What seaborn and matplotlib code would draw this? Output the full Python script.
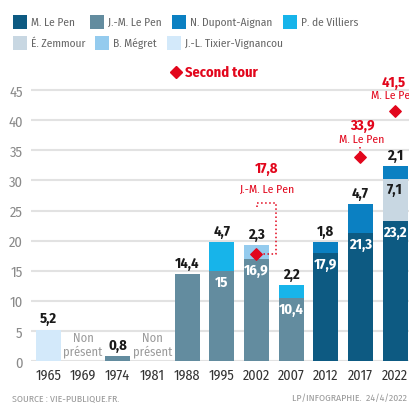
import pandas as pd
import numpy as np
import matplotlib.pyplot as plt
import seaborn as sns
from matplotlib.patches import Rectangle
from matplotlib.lines import Line2D

# données : scores au premier tour de l'extrême droite
annees = ["1965", "1969", "1974", "1981", "1988", "1995", "2002", "2007", "2012", "2017", "2022"]
jm_le_pen = [0, 0, 0.8, 0, 14.4, 15, 16.9, 10.4, 0, 0, 0]
m_le_pen = [0, 0, 0, 0, 0, 0, 0, 0, 17.9, 21.3, 23.2]
zemmour = [0, 0, 0, 0, 0, 0, 0, 0, 0, 0, 7.1]
tixier = [5.2, 0, 0, 0, 0, 0, 0, 0, 0, 0, 0]
megret = [0, 0, 0, 0, 0, 0, 2.3, 0, 0, 0, 0]
villiers = [0, 0, 0, 0, 0, 4.7, 0, 2.2, 0, 0, 0]
dupont = [0, 0, 0, 0, 0, 0, 0, 0, 1.8, 4.7, 2.1]
non_present = ["1969", "1981"]

# second tour
st_annees = ["2002", "2017", "2022"]
st_valeurs = [17.8, 33.9, 41.5]
st_noms = ["J.-M. Le Pen", "M. Le Pen", "M. Le Pen"]

couleurs = {
    "M. Le Pen": "#0d5a82",
    "J.-M. Le Pen": "#638c9f",
    "N. Dupont-Aignan": "#0b80c2",
    "P. de Villiers": "#17b4ea",
    "É. Zemmour": "#c8d7e2",
    "B. Mégret": "#94cbee",
    "J.-L. Tixier-Vignancou": "#d3e9fa",
}
rouge = "#e2061c"

# ordre d'empilement (du bas vers le haut)
couches = [
    ("J.-M. Le Pen", jm_le_pen),
    ("M. Le Pen", m_le_pen),
    ("É. Zemmour", zemmour),
    ("J.-L. Tixier-Vignancou", tixier),
    ("B. Mégret", megret),
    ("P. de Villiers", villiers),
    ("N. Dupont-Aignan", dupont),
]

df = pd.DataFrame({"annee": annees})
cumul = np.zeros(len(annees))
for nom, vals in couches:
    cumul = cumul + np.array(vals)
    df[nom + "_haut"] = cumul.copy()
df["total"] = cumul

sns.set_style("white")
plt.rcParams["font.family"] = ["Fira Sans Condensed", "DejaVu Sans"]

W, H = 410, 406
fig = plt.figure(figsize=(4.1, 4.06), dpi=100)
ax = fig.add_axes([31 / W, 44 / H, 379 / W, 301 / H])

# barres empilées : on dessine les cumuls du haut vers le bas
for nom, vals in reversed(couches):
    sns.barplot(data=df, x="annee", y=nom + "_haut", order=annees, color=couleurs[nom],
                width=0.72, linewidth=0, saturation=1, ax=ax, zorder=3)

ax.set_xlim(-0.49, 10.43)
ax.set_ylim(0, 50)
ax.set_yticks(range(0, 50, 5))
ax.yaxis.grid(True, color="#e2e2e2", linewidth=1.5, zorder=0)
ax.set_axisbelow(True)
for s in ax.spines.values():
    s.set_visible(False)
ax.set_xlabel("")
ax.set_ylabel("")
ax.tick_params(axis="y", length=0, labelsize=10.5, labelcolor="#8a8a8a", pad=6)
ax.tick_params(axis="x", which="major", length=0, labelsize=10.2, labelcolor="#333333", pad=5)
ax.set_xticks(np.arange(len(annees)) - 0.5, minor=True)
ax.tick_params(axis="x", which="minor", length=5, width=1, color="#aaaaaa", direction="out")

# étiquettes de valeurs
def fmt(v):
    return f"{v:g}".replace(".", ",")

for i, a in enumerate(annees):
    segs = [(nom, vals[i]) for nom, vals in couches if vals[i] > 0]
    if not segs:
        continue
    total = df["total"][i]
    haut_nom, haut_val = segs[-1]
    ax.text(i, total + 0.7, fmt(haut_val), ha="center", va="bottom", fontsize=10.5,
            fontweight="bold", color="#1a1a1a", zorder=5)
    if len(segs) > 1:
        bas = 0
        for nom, v in segs[:-1]:
            c = "#1a1a1a" if nom == "É. Zemmour" else "white"
            ax.text(i, bas + v - 0.6, fmt(v), ha="center", va="top", fontsize=10.5,
                    fontweight="bold", color=c, zorder=5)
            bas += v

for a in non_present:
    i = annees.index(a)
    ax.text(i, 2.8, "Non\nprésent", ha="center", va="center", fontsize=9,
            color="#9a9a9a", linespacing=1.05)

# second tour
st_x = [annees.index(a) for a in st_annees]
ax.scatter(st_x, st_valeurs, marker="D", s=34, color=rouge, zorder=6, clip_on=False)

ax.plot([6.02, 6.02, 6.57, 6.57, 6.05], [25.6, 26.3, 26.3, 17.8, 17.8], ls=":",
        color=rouge, lw=1.1, zorder=6)
ax.plot([9, 9], [35.6, 34.5], ls=":", color=rouge, lw=1.1, zorder=6)

etiq_pos = [(6.3, 32.0, 28.6), (9.05, 39.3, 36.9), (9.95, 46.4, 44.2)]
for (x, y1, y2), v, n in zip(etiq_pos, st_valeurs, st_noms):
    ax.text(x, y1, fmt(v), ha="center", va="center", fontsize=10.5, fontweight="bold",
            color=rouge, clip_on=False)
    ax.text(x, y2, n, ha="center", va="center", fontsize=8.4, color=rouge, clip_on=False)

# légende (deux lignes, placement libre comme dans l'original)
legende = [
    ("M. Le Pen", 13, 22.5), ("J.-M. Le Pen", 90, 22.5),
    ("N. Dupont-Aignan", 172, 22.5), ("P. de Villiers", 283, 22.5),
    ("É. Zemmour", 13, 44), ("B. Mégret", 95, 44),
    ("J.-L. Tixier-Vignancou", 167, 44),
]
for nom, x0, yc in legende:
    fig.add_artist(Rectangle((x0 / W, 1 - (yc + 7) / H), 14 / W, 14 / H,
                             facecolor=couleurs[nom], edgecolor="none",
                             transform=fig.transFigure))
    fig.text((x0 + 18) / W, 1 - yc / H, nom, fontsize=8.2, color="#666666",
             va="center", ha="left")

fig.add_artist(Line2D([176 / W], [1 - 73 / H], marker="D", markersize=6,
                      color=rouge, transform=fig.transFigure))
fig.text(185 / W, 1 - 73 / H, "Second tour", fontsize=10.4, fontweight="bold",
         color=rouge, va="center", ha="left")

fig.text(12 / W, 1 - 398 / H, "SOURCE : VIE-PUBLIQUE.FR.", fontsize=7,
         color="#999999", va="center")
fig.text(407 / W, 1 - 398 / H, "LP/INFOGRAPHIE.  24/4/2022", fontsize=7,
         color="#999999", va="center", ha="right")

fig.savefig("out.png", dpi=100)
